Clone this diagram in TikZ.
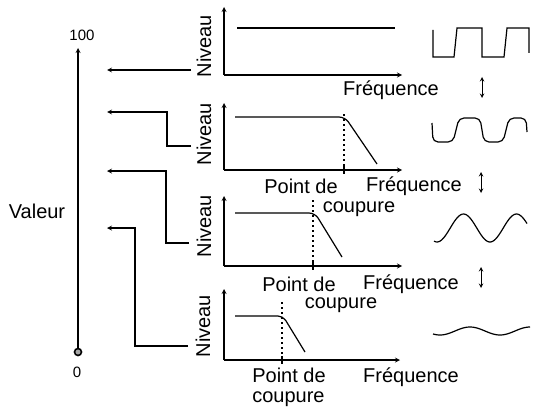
\documentclass[tikz,border=0pt]{standalone}
\usepackage{fontspec}
\setmainfont{Liberation Sans}

\begin{document}
\begin{tikzpicture}[x=1pt, y=-1pt, >=stealth, line width=1.2pt,
    lbl/.style={inner sep=0pt, font=\fontsize{20}{20}\selectfont},
    num/.style={inner sep=0pt, font=\fontsize{15}{15}\selectfont},
    niveau/.style={lbl, rotate=90},
    coupe/.style={dash pattern=on 1.5pt off 3.5pt}]
  \useasboundingbox (0,0) rectangle (537,409);

  % echelle des valeurs
  \coordinate (zero) at (78,352);
  \coordinate (cent) at (78,48);
  \draw[->] (zero) -- (cent);
  \draw[line width=1.6pt, fill=gray!70] (zero) circle (3.5);
  \node[num] (n100) at (82,35) {100};
  \node[num] (n0) at (77,372) {0};
  \node[lbl] (valeur) at (37,211) {Valeur};

  % fleches vers l'echelle
  \coordinate (s1) at (191,70);  \coordinate (e1) at (107,70);
  \coordinate (s2) at (191,146); \coordinate (e2) at (107,112);
  \coordinate (s3) at (189,243); \coordinate (e3) at (107,171);
  \coordinate (s4) at (188,346); \coordinate (e4) at (107,228);
  \draw[->] (s1) -- (e1);
  \draw[->] (s2) -- ++(-24,0) |- (e2);
  \draw[->] (s3) -- ++(-23,0) |- (e3);
  \draw[->] (s4) -- ++(-53,0) |- (e4);

  % courbe 1
  \coordinate (o1) at (224,75);
  \draw[->] (o1) -- ++(0,-68);
  \draw[->] (o1) -- ++(178,0);
  \draw (237,28) -- (395,28);
  \node[niveau] (niv1) at (204,46) {Niveau};
  \node[lbl] (freq1) at (391,90) {Fréquence};

  % courbe 2
  \coordinate (o2) at (224,170);
  \draw[->] (o2) -- ++(0,-67);
  \draw[->] (o2) -- ++(178,0);
  \draw[rounded corners=6pt] (235,117) -- (345,117) -- (377,164);
  \draw[coupe] (344,114) -- (344,170);
  \draw (344,166) -- (344,174);
  \node[niveau] (niv2) at (204,134) {Niveau};
  \node[lbl] (pt2) at (301,186) {Point de};
  \node[lbl] (cp2) at (359,209) {coupure};
  \node[lbl] (freq2) at (414,186) {Fréquence};

  % courbe 3
  \coordinate (o3) at (224,266);
  \draw[->] (o3) -- ++(0,-70);
  \draw[->] (o3) -- ++(178,0);
  \draw[rounded corners=6pt] (235,213) -- (315,213) -- (342,257);
  \draw[coupe] (313,200) -- (313,266);
  \draw (313,262) -- (313,270);
  \node[niveau] (niv3) at (204,226) {Niveau};
  \node[lbl] (pt3) at (299,284) {Point de};
  \node[lbl] (cp3) at (341,305) {coupure};
  \node[lbl] (freq3) at (411,284) {Fréquence};

  % courbe 4
  \coordinate (o4) at (224,360);
  \draw[->] (o4) -- ++(0,-71);
  \draw[->] (o4) -- ++(176,0);
  \draw[rounded corners=5pt] (235,316) -- (283,316) -- (305,352);
  \draw[coupe] (282,302) -- (282,360);
  \draw (282,356) -- (282,364);
  \node[niveau] (niv4) at (203,326) {Niveau};
  \node[lbl, align=left, font=\fontsize{20}{20}\selectfont] (pc4) at (289,387)
    {Point de\\coupure};
  \node[lbl] (freq4) at (411,377) {Fréquence};

  % formes d'onde
  \draw (433,30) -- (433,57) -- (454,57) -- (457,28) -- (482,28) -- (482,57)
    -- (504,57) -- (507,28) -- (529,28) -- (529,53);
  \draw[rounded corners=5pt] (432,123) -- (433,142) -- (453,142) -- (459,118)
    -- (480,118) -- (484,142) -- (503,142) -- (509,118) -- (526,118) -- (527,132);
  \draw plot[domain=434:527, samples=60] (\x, {228+14*cos((\x-437)/53*360)});
  \draw plot[domain=433:530, samples=60] (\x, {331+4*cos((\x-500)/60*360)});
  \draw[<->, line width=1pt] (482,77) -- (482,98);
  \draw[<->, line width=1pt] (481,172) -- (481,193);
  \draw[<->, line width=1pt] (481,267) -- (481,288);
\end{tikzpicture}
\end{document}
